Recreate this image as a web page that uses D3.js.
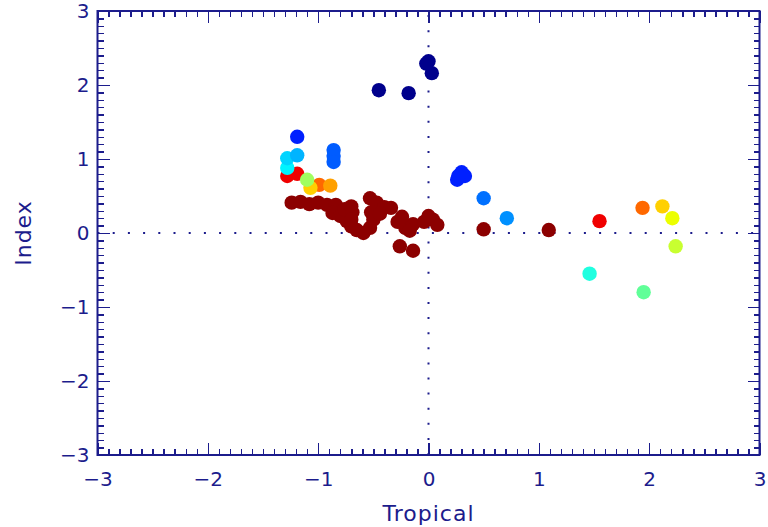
<!DOCTYPE html>
<html>
<head>
<meta charset="utf-8">
<script src="https://cdn.jsdelivr.net/npm/d3@7/dist/d3.min.js"></script>
<style>
  html, body { margin: 0; padding: 0; background: #ffffff; }
  svg { display: block; }
  text { font-family: "DejaVu Sans", sans-serif; fill: #1c1c8c; }
</style>
</head>
<body>
<svg id="chart" width="768" height="527"></svg>
<script>
// Tropical index (x) against the second index (y); each point carries the period it belongs to.
const tropical = [
  0.00, 0.03, -0.45, -0.18, -0.02,
  -1.19, 0.30, 0.26, 0.33, 0.27,
  -0.86, -0.86, -0.86,
  0.50,
  0.71,
  -1.19,
  -1.28,
  -1.28,
  1.46,
  1.95,
  -1.10,
  2.24,
  2.21,
  -1.07, 2.12,
  -0.89,
  -0.99, 1.94,
  -1.28, -1.19, 1.55,
  -1.24, -1.16, -1.08, -1.00, -0.92, -0.84, -0.87, -0.80, -0.74, -0.70, -0.65,
  -0.76, -0.70, -0.69, -0.70, -0.53, -0.47, -0.40, -0.34, -0.52, -0.50, -0.53,
  -0.59, -0.44, -0.28, -0.21, -0.14, -0.24, -0.17, -0.04, 0.04, 0.08, 0.00,
  -0.26, -0.14, 0.50, 1.09
];
const indexValues = [
  2.32, 2.16, 1.93, 1.89, 2.29,
  1.30, 0.82, 0.72, 0.77, 0.77,
  1.12, 1.04, 0.96,
  0.47,
  0.20,
  1.05,
  1.01,
  0.88,
  -0.55,
  -0.80,
  0.72,
  -0.18,
  0.20,
  0.61, 0.36,
  0.64,
  0.65, 0.34,
  0.77, 0.80, 0.16,
  0.41, 0.42, 0.39, 0.41, 0.38, 0.38, 0.27, 0.23, 0.16, 0.09, 0.04,
  0.32, 0.36, 0.28, 0.18, 0.47, 0.41, 0.35, 0.34, 0.28, 0.18, 0.07,
  0.00, 0.26, 0.15, 0.07, 0.12, 0.22, 0.03, 0.15, 0.18, 0.11, 0.23,
  -0.18, -0.24, 0.05, 0.04
];
const period = [
  0, 0, 0, 0, 0,
  1, 1, 1, 1, 1,
  2, 2, 2,
  3,
  4,
  5,
  6,
  7,
  8,
  9,
  10,
  11,
  12,
  13, 13,
  14,
  15, 15,
  16, 16, 16,
  17, 17, 17, 17, 17, 17, 17, 17, 17, 17, 17,
  17, 17, 17, 17, 17, 17, 17, 17, 17, 17, 17,
  17, 17, 17, 17, 17, 17, 17, 17, 17, 17, 17,
  17, 17, 17, 17
];
const majorTicks = [-3, -2, -1, 0, 1, 2, 3];
const xTitle = "Tropical";
const yTitle = "Index";

const ink = "#1c1c8c";
const palette = [
  "#00008c", "#0020ff", "#005cff", "#0070ff", "#0090ff", "#00b4ff",
  "#00d4ff", "#00f4ff", "#20ffe0", "#60ff98", "#a0ff60", "#c8ff30",
  "#ecff00", "#ffd000", "#ffa000", "#ff6800", "#f00000", "#8c0000"
];
const colour = d3.scaleOrdinal().domain(d3.range(palette.length)).range(palette);

const svg = d3.select("#chart");
const plotLeft = 97.5, plotRight = 759.5, plotTop = 11, plotBottom = 455;
const x = d3.scaleLinear().domain([-3, 3]).range([plotLeft, plotRight]);
const y = d3.scaleLinear().domain([-3, 3]).range([plotBottom, plotTop]);
const minorTicks = d3.range(-30, 31).map(v => v / 10);

// zero reference lines, dotted
svg.append("line")
  .attr("x1", x(-3)).attr("x2", x(3)).attr("y1", y(0)).attr("y2", y(0))
  .attr("stroke", ink).attr("stroke-width", 2).attr("stroke-dasharray", "2 13.2");
svg.append("line")
  .attr("x1", x(0)).attr("x2", x(0)).attr("y1", y(-3)).attr("y2", y(3))
  .attr("stroke", ink).attr("stroke-width", 2).attr("stroke-dasharray", "2 13.1");

// points: later periods first, so earlier ones sit on top
const pts = tropical.map((v, i) => ({ x: v, y: indexValues[i], p: period[i] }));
svg.append("g").selectAll("circle")
  .data(pts.slice().sort((a, b) => b.p - a.p))
  .join("circle")
  .attr("cx", d => x(d.x))
  .attr("cy", d => y(d.y))
  .attr("r", 7.2)
  .attr("fill", d => colour(d.p));

// axes with inward ticks on all four sides
function drawAxis(axisFn, scale, transform, labels) {
  const minor = svg.append("g").attr("transform", transform)
    .call(axisFn(scale).tickValues(minorTicks).tickSize(-6).tickFormat(""));
  const major = svg.append("g").attr("transform", transform)
    .call(axisFn(scale).tickValues(majorTicks).tickSize(-12)
      .tickPadding(axisFn === d3.axisBottom ? 17 : 8)
      .tickFormat(labels ? (d => d < 0 ? "\u2212" + Math.abs(d) : String(d)) : ""));
  [minor, major].forEach(g => {
    g.select(".domain").remove();
    g.selectAll("line").attr("stroke", ink).attr("stroke-width", 1.5)
      .attr("shape-rendering", "crispEdges");
    g.selectAll("text").attr("fill", ink).attr("font-size", 20)
      .attr("font-family", "DejaVu Sans, sans-serif");
  });
}
drawAxis(d3.axisBottom, x, `translate(0,${plotBottom})`, true);
drawAxis(d3.axisTop, x, `translate(0,${plotTop})`, false);
drawAxis(d3.axisLeft, y, `translate(${plotLeft},0)`, true);
drawAxis(d3.axisRight, y, `translate(${plotRight},0)`, false);

// frame
svg.append("rect")
  .attr("x", plotLeft).attr("y", plotTop)
  .attr("width", plotRight - plotLeft).attr("height", plotBottom - plotTop)
  .attr("fill", "none").attr("stroke", ink).attr("stroke-width", 2);

// axis titles
svg.append("text")
  .attr("x", x(0)).attr("y", 521)
  .attr("text-anchor", "middle").attr("font-size", 22)
  .attr("letter-spacing", 1)
  .text(xTitle);
svg.append("text")
  .attr("transform", `translate(31,${y(0)}) rotate(-90)`)
  .attr("text-anchor", "middle").attr("font-size", 22)
  .attr("letter-spacing", 1)
  .text(yTitle);
</script>
</body>
</html>
